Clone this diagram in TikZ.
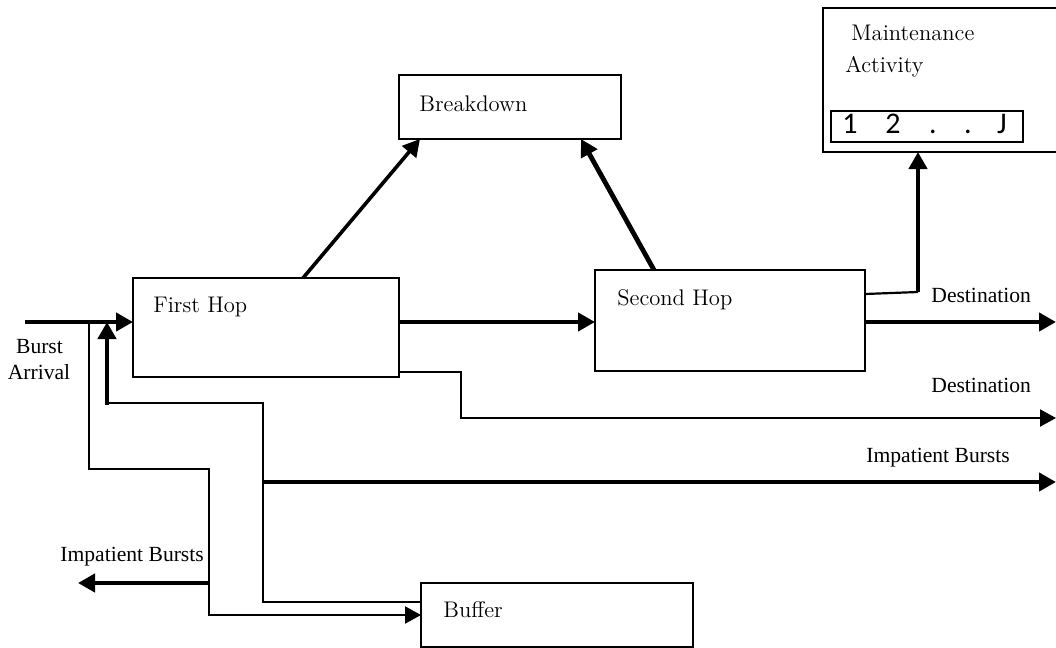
\documentclass[tikz,border=0pt]{standalone}
\usepackage{fontspec}
\usetikzlibrary{arrows.meta,positioning}
\newfontfamily\tmsfont{Liberation Serif}
\newfontfamily\calfont{Carlito}
\tikzset{
  blk/.style={draw,line width=1pt,inner sep=0pt,outer sep=0pt},
  slotbox/.style={blk,minimum width=96pt,minimum height=15.5pt},
  boxtxt/.style={anchor=base west,inner sep=0pt,font=\fontsize{11.3}{13}\selectfont},
  lbl/.style={anchor=base west,inner sep=0pt,font=\tmsfont\fontsize{10.8}{12.5}\selectfont},
  idx/.style={anchor=base,inner sep=0pt,font=\calfont\fontsize{15}{18}\selectfont},
  arr/.style={-{Triangle[length=8.5pt,width=9pt]},line width=2.4pt},
  wire/.style={line width=1.1pt},
  warr/.style={wire,-{Triangle[length=8pt,width=8.5pt]}},
}

\begin{document}
\begin{tikzpicture}[x=0.5pt,y=-0.5pt]
  \useasboundingbox (0,0) rectangle (1056,648);
  \clip (0,0) rectangle (1056,648);
  % boxes
  \node[blk,minimum width=133pt,minimum height=49.5pt] (hopA) at (266,327.5) {};
  \node[blk,minimum width=135pt,minimum height=50.5pt] (hopB) at (730,320.5) {};
  \node[blk,minimum width=111pt,minimum height=32pt] (brk) at (510,107) {};
  \node[blk,minimum width=120.5pt,minimum height=72pt] (mnt) at (943.5,80) {};
  \node[slotbox] (slots) at (927,126.5) {};
  \node[blk,minimum width=136pt,minimum height=32pt] (buf) at (557,615) {};
  % box texts
  \node[boxtxt] (tA) at (153,312) {First Hop};
  \node[boxtxt] (tB) at (617,305) {Second Hop};
  \node[boxtxt] (tBrk) at (419,111) {Breakdown};
  \node[boxtxt] (tM1) at (851,40) {Maintenance};
  \node[boxtxt] (tM2) at (845,72) {Activity};
  \node[boxtxt] (tBuf) at (443,617) {Buffer};
  \foreach \x/\c [count=\i] in {850/1,893/2,933/.,968/.,1002/J}
    \node[idx] (s\i) at (\x,133) {\c};
  % end points
  \coordinate (src) at (25,322);
  \coordinate (split) at (89,322);
  \coordinate (rejoin) at (107,322);
  \coordinate (drop) at (209,583);
  \coordinate (lossL) at (78,583);
  \coordinate (loss0) at (263,482);
  \coordinate (lossR) at (1056,482);
  \coordinate (dst1) at (1056,322);
  \coordinate (dst2) at (1056,418);
  \coordinate (tap) at (918,292);
  % connectors
  \draw[arr] (src) -- (src -| hopA.west);
  \draw[arr] (hopA.east |- src) -- (src -| hopB.west);
  \draw[arr] (hopB.east |- src) -- (dst1);
  \draw[warr] (split) -- (89,469) -- (209,469) |- (buf.west);
  \draw[arr] (drop) -- (lossL);
  \draw[wire] ([yshift=6.5pt]buf.west) -| (263,403) -- (107,403);
  \draw[arr] (107,405) -- (rejoin);
  \draw[arr] (loss0) -- (lossR);
  \draw[warr] ([yshift=2.5pt]hopA.south east) -| (461,418) -- (dst2);
  \draw[wire] (hopB.east |- 0,294) -- (tap);
  \draw[arr] (tap) -- (tap |- mnt.south);
  \draw[arr,line width=1.8pt] ([xshift=18.5pt]hopA.north) -- ([xshift=-45pt]brk.south);
  \draw[arr] ([xshift=-38pt]hopB.north) -- ([xshift=35.5pt]brk.south);
  % labels
  \node[lbl,anchor=base] (burst) at (39.5,353) {Burst};
  \node[lbl,anchor=base] (arrival) at (39,379) {Arrival};
  \node[lbl] (dlab1) at (931,302) {Destination};
  \node[lbl] (dlab2) at (931,392) {Destination};
  \node[lbl] (ilabR) at (866,462) {Impatient Bursts};
  \node[lbl] (ilabL) at (60,561) {Impatient Bursts};
\end{tikzpicture}
\end{document}
